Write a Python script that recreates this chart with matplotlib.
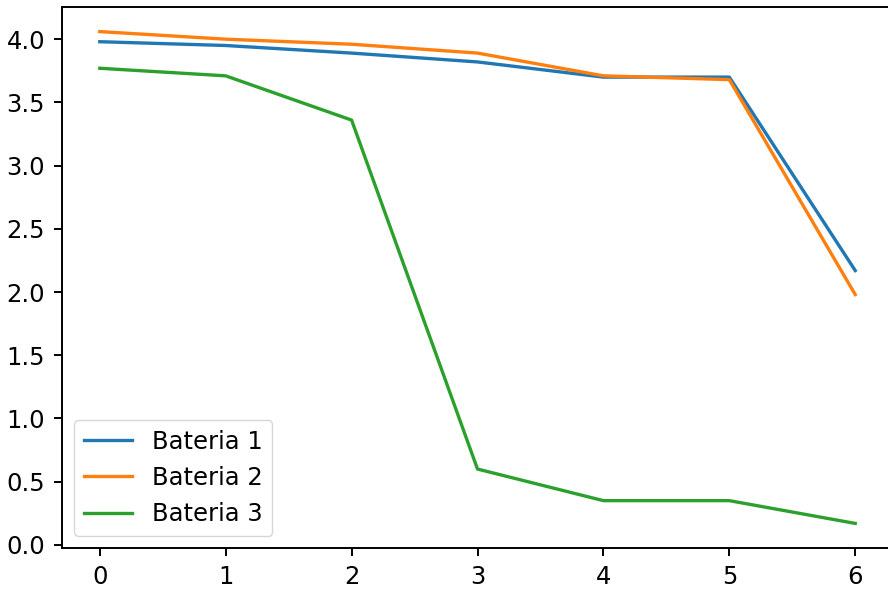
import matplotlib
matplotlib.use("Agg")
import matplotlib.pyplot as plt

x = [0, 1, 2, 3, 4, 5, 6]
bateria1 = [3.98, 3.95, 3.89, 3.82, 3.70, 3.70, 2.17]
bateria2 = [4.06, 4.00, 3.96, 3.89, 3.71, 3.68, 1.98]
bateria3 = [3.77, 3.71, 3.36, 0.60, 0.35, 0.35, 0.17]
labels = ["Bateria 1", "Bateria 2", "Bateria 3"]

# screenshot is an upscaled default plot, so scale the defaults up (~2.4x)
plt.rcParams["font.size"] = 17.5
plt.rcParams["axes.linewidth"] = 1.4
plt.rcParams["xtick.major.size"] = 6.1
plt.rcParams["ytick.major.size"] = 6.1
plt.rcParams["xtick.major.width"] = 1.4
plt.rcParams["ytick.major.width"] = 1.4
plt.rcParams["xtick.major.pad"] = 6.1
plt.rcParams["ytick.major.pad"] = 6.1

fig = plt.figure(figsize=(8.88, 5.92), dpi=100)
# right spine falls just outside the picture, as in the cropped screenshot
ax = fig.add_axes([62 / 888, 44 / 592, 831 / 888, 541 / 592])

for y, lab in zip([bateria1, bateria2, bateria3], labels):
    ax.plot(x, y, label=lab, linewidth=2.4)

ax.legend(loc="lower left")
fig.savefig("out.png", dpi=100)
